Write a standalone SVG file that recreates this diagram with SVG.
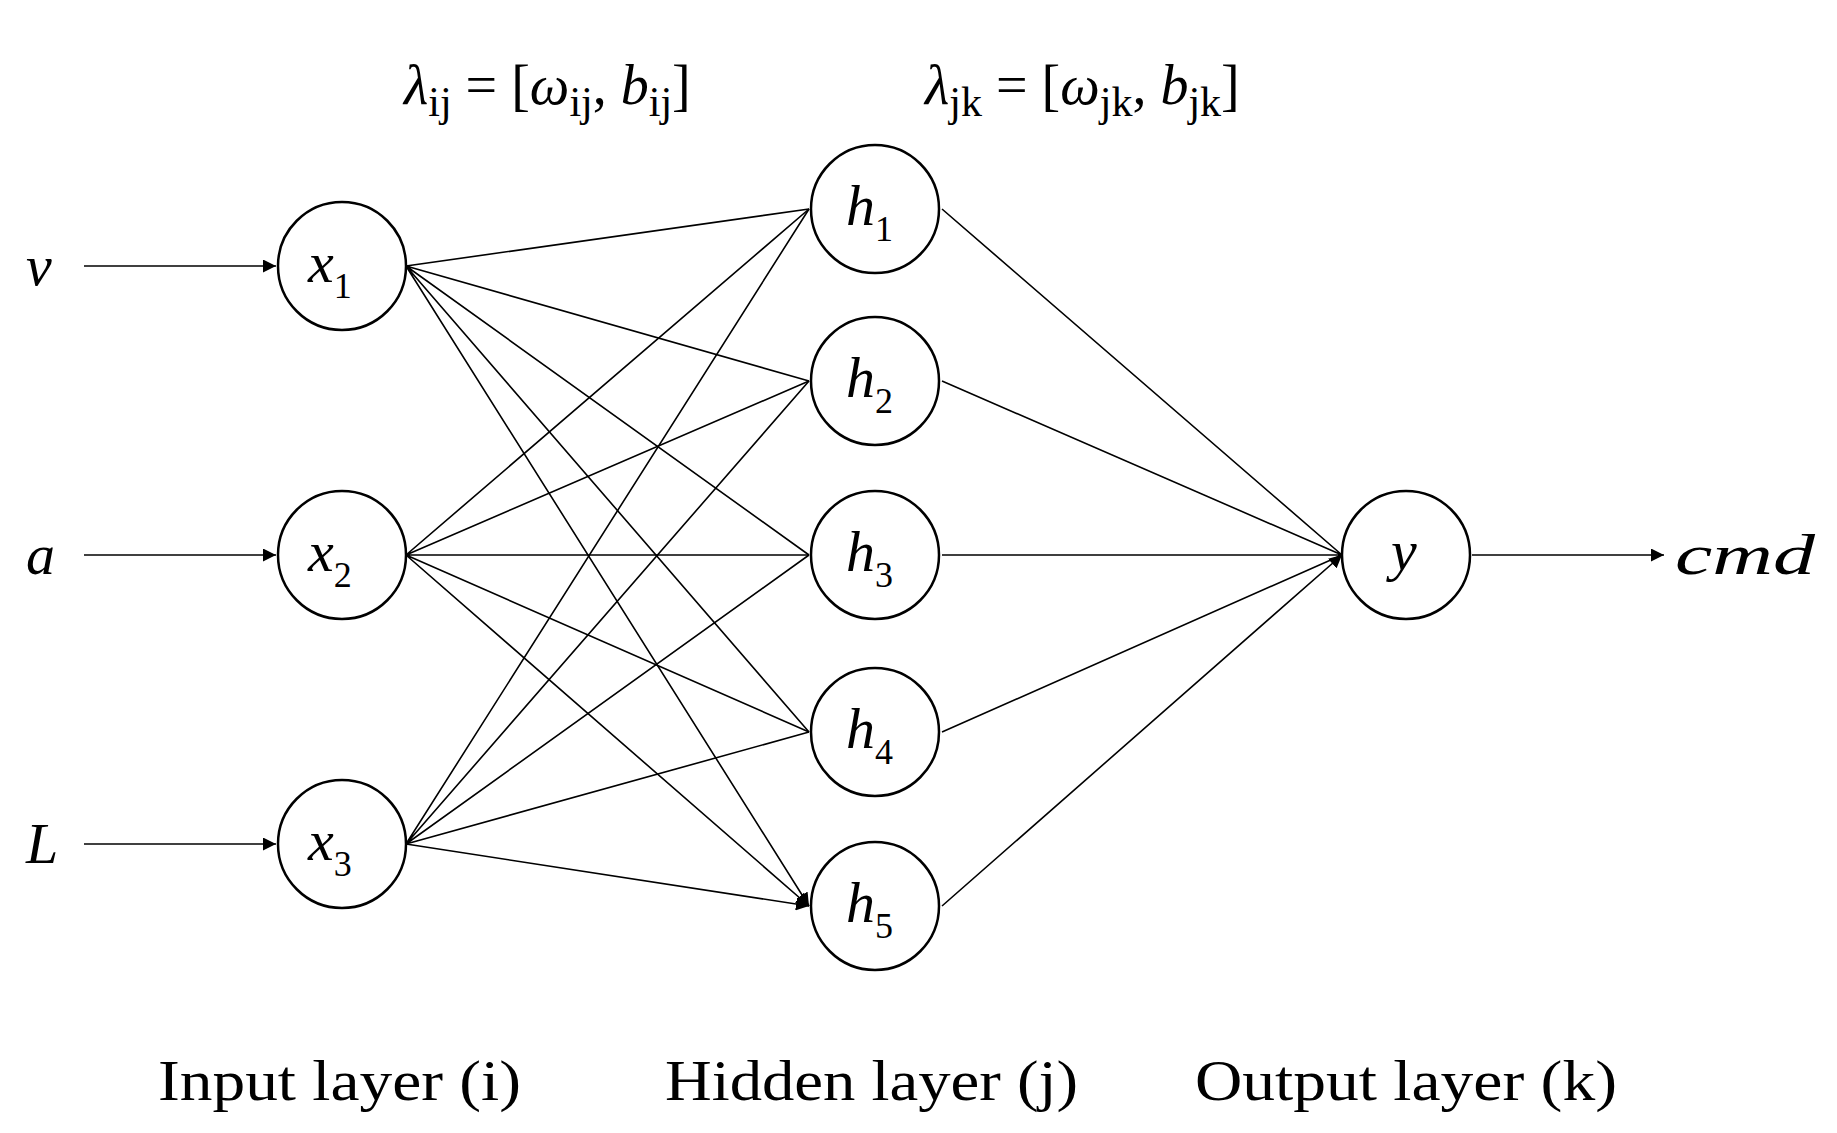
<svg xmlns="http://www.w3.org/2000/svg" width="1837" height="1133" viewBox="0 0 1837 1133">
<style>
.n{fill:#fff;stroke:#000;stroke-width:2.5}
.e{stroke:#000;stroke-width:1.6;fill:none}
.m{font-family:"Liberation Serif",serif;font-style:italic;font-size:58px}
.s{font-family:"Liberation Serif",serif;font-size:36px;font-style:normal}
.t{font-family:"Liberation Serif",serif;font-size:56px}
.q{font-size:42px;font-style:normal}
</style>
<defs><marker id="a" viewBox="0 0 10 10" refX="10" refY="5" markerWidth="13" markerHeight="13" markerUnits="userSpaceOnUse" orient="auto"><path d="M0,0L10,5L0,10z"/></marker></defs>
<rect width="1837" height="1133" fill="#fff"/>
<g id="x1"><circle class="n" cx="342" cy="266" r="64"/><text class="m" x="308" y="282">x<tspan class="s" dy="16">1</tspan></text></g>
<g id="x2"><circle class="n" cx="342" cy="555" r="64"/><text class="m" x="308" y="571">x<tspan class="s" dy="16">2</tspan></text></g>
<g id="x3"><circle class="n" cx="342" cy="844" r="64"/><text class="m" x="308" y="860">x<tspan class="s" dy="16">3</tspan></text></g>
<g id="h1"><circle class="n" cx="875" cy="209" r="64"/><text class="m" x="846" y="225">h<tspan class="s" dy="16">1</tspan></text></g>
<g id="h2"><circle class="n" cx="875" cy="381" r="64"/><text class="m" x="846" y="397">h<tspan class="s" dy="16">2</tspan></text></g>
<g id="h3"><circle class="n" cx="875" cy="555" r="64"/><text class="m" x="846" y="571">h<tspan class="s" dy="16">3</tspan></text></g>
<g id="h4"><circle class="n" cx="875" cy="732" r="64"/><text class="m" x="846" y="748">h<tspan class="s" dy="16">4</tspan></text></g>
<g id="h5"><circle class="n" cx="875" cy="906" r="64"/><text class="m" x="846" y="922">h<tspan class="s" dy="16">5</tspan></text></g>
<g id="y"><circle class="n" cx="1406" cy="555" r="64"/><text class="m" x="1391" y="570">y</text></g>
<g id="connectors" class="e" marker-end="url(#a)">
<line x1="84" y1="266" x2="276" y2="266"/><line x1="84" y1="555" x2="276" y2="555"/><line x1="84" y1="844" x2="276" y2="844"/>
<path d="M406 266L809 209M406 266L809 381M406 266L809 555M406 266L809 732M406 266L809 906"/>
<path d="M406 555L809 209M406 555L809 381M406 555L809 555M406 555L809 732M406 555L809 906"/>
<path d="M406 844L809 209M406 844L809 381M406 844L809 555M406 844L809 732M406 844L809 906"/>
<path d="M942 209L1342 555M942 381L1342 555M942 555L1342 555M942 732L1342 555M942 906L1342 555"/>
<line x1="1472" y1="555" x2="1664" y2="555"/>
</g>
<g id="inputs"><text class="m" x="26" y="285" font-size="72">v</text><text class="m" x="26" y="574" font-size="72">a</text><text class="m" x="26" y="863" font-size="72">L</text><text class="m" x="1675" y="574" font-size="72" textLength="140" lengthAdjust="spacingAndGlyphs">cmd</text></g>
<g id="labels">
<text class="t" x="404" y="104" font-size="70"><tspan font-style="italic">λ</tspan><tspan class="q" dy="12">ij</tspan><tspan dy="-12"> = [</tspan><tspan font-style="italic">ω</tspan><tspan class="q" dy="12">ij</tspan><tspan dy="-12">, </tspan><tspan font-style="italic">b</tspan><tspan class="q" dy="12">ij</tspan><tspan dy="-12">]</tspan></text>
<text class="t" x="925" y="104" font-size="70"><tspan font-style="italic">λ</tspan><tspan class="q" dy="12">jk</tspan><tspan dy="-12"> = [</tspan><tspan font-style="italic">ω</tspan><tspan class="q" dy="12">jk</tspan><tspan dy="-12">, </tspan><tspan font-style="italic">b</tspan><tspan class="q" dy="12">jk</tspan><tspan dy="-12">]</tspan></text>
<text class="t" x="158" y="1100" textLength="363" lengthAdjust="spacingAndGlyphs">Input layer (i)</text>
<text class="t" x="665" y="1100" textLength="413" lengthAdjust="spacingAndGlyphs">Hidden layer (j)</text>
<text class="t" x="1195" y="1100" textLength="422" lengthAdjust="spacingAndGlyphs">Output layer (k)</text>
</g>
</svg>
